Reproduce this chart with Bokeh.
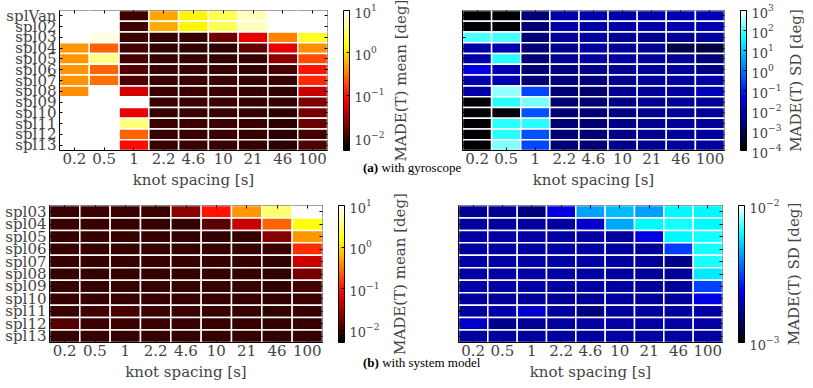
import numpy as np
from bokeh.plotting import figure
from bokeh.models import (ColumnDataSource, FactorRange, LogColorMapper, ColorBar,
                          FixedTicker, LogTickFormatter, Label, Div, CategoricalAxis)
from bokeh.layouts import column, row
from bokeh.embed import file_html
from bokeh.resources import INLINE

nan = float("nan")

# ---------------- data ----------------
spacing = ["0.2", "0.5", "1", "2.2", "4.6", "10", "21", "46", "100"]
rows_gyro = ["splVan", "spl02", "spl03", "spl04", "spl05", "spl06", "spl07",
             "spl08", "spl09", "spl10", "spl11", "spl12", "spl13"]
rows_sys = ["spl03", "spl04", "spl05", "spl06", "spl07", "spl08", "spl09",
            "spl10", "spl11", "spl12", "spl13"]

mean_gyro = [
    [nan, nan, 0.0100, 0.52, 1.30, 2.60, 6.00, nan, nan],
    [nan, nan, 0.0100, 0.55, 1.30, 2.70, 6.00, nan, nan],
    [nan, 8.00, 0.0096, 0.0086, 0.0091, 0.0165, 0.062, 0.35, 1.90],
    [0.44, 0.24, 0.0107, 0.0086, 0.0086, 0.0082, 0.015, 0.062, 0.40],
    [0.44, 3.90, 0.0107, 0.0091, 0.0091, 0.0086, 0.0091, 0.023, 0.19],
    [0.44, 0.25, 0.0126, 0.0096, 0.0096, 0.0091, 0.0086, 0.011, 0.10],
    [0.42, 0.28, 0.0120, 0.0096, 0.0096, 0.0096, 0.0091, 0.0091, 0.126],
    [0.40, nan, 0.052, 0.0096, 0.0096, 0.0096, 0.0091, 0.0086, 0.044],
    [nan, nan, nan, 0.0096, 0.0096, 0.0096, 0.0091, 0.0091, 0.020],
    [nan, nan, 0.065, 0.0096, 0.0096, 0.0096, 0.0091, 0.0082, 0.018],
    [nan, nan, 3.60, 0.0096, 0.0096, 0.0096, 0.0091, 0.0082, 0.016],
    [nan, nan, 0.25, 0.0096, 0.0096, 0.0096, 0.0091, 0.0082, 0.011],
    [nan, nan, 0.087, 0.0096, 0.0096, 0.0096, 0.0091, 0.0082, 0.012],
]

sd_gyro = [
    [1.2e-4, 1.2e-4, 0.0016, 0.0067, 0.0067, 0.0063, 0.0067, 0.0075, 0.0085],
    [1.2e-4, 1.2e-4, 0.0016, 0.0063, 0.0059, 0.0059, 0.0063, 0.0067, 0.0075],
    [110.0, 100.0, 0.0018, 0.0037, 0.0047, 0.0033, 0.0029, 0.0033, 0.0042],
    [0.0059, 0.0067, 0.0018, 0.0029, 0.0047, 0.0042, 0.0033, 6.0e-4, 5.0e-4],
    [0.0059, 66.0, 0.0016, 0.0033, 0.0047, 0.0047, 0.0042, 0.0037, 0.0016],
    [0.025, 0.0075, 0.0016, 0.0023, 0.0026, 0.0033, 0.0042, 0.0042, 0.0026],
    [0.0067, 0.0075, 0.0016, 0.0020, 0.0020, 0.0033, 0.0042, 0.0047, 0.0059],
    [0.0059, 265.0, 0.29, 0.0016, 0.0014, 0.0033, 0.0042, 0.0047, 0.0085],
    [1.2e-4, 66.0, 180.0, 0.0016, 0.0018, 0.0026, 0.0033, 0.0042, 0.0037],
    [1.2e-4, 1.4e-4, 0.40, 0.0016, 0.0018, 0.0026, 0.0033, 0.0042, 0.0042],
    [1.2e-4, 66.0, 66.0, 0.0018, 0.0016, 0.0026, 0.0033, 0.0042, 0.0042],
    [1.2e-4, 66.0, 0.40, 0.0018, 0.0018, 0.0029, 0.0033, 0.0042, 0.0047],
    [1.2e-4, 205.0, 0.29, 0.0018, 0.0018, 0.0029, 0.0033, 0.0042, 0.0047],
]

mean_sys = [
    [0.0096, 0.0096, 0.0096, 0.0096, 0.023, 0.10, 0.45, 3.30, 9.50],
    [0.0096, 0.0091, 0.0091, 0.0091, 0.0086, 0.0135, 0.045, 0.25, 1.50],
    [0.0091, 0.0091, 0.0091, 0.0091, 0.0091, 0.0086, 0.0091, 0.022, 0.45],
    [0.0091, 0.0091, 0.0091, 0.0091, 0.0091, 0.0091, 0.0091, 0.0096, 0.134],
    [0.0091, 0.0091, 0.0091, 0.0091, 0.0091, 0.0091, 0.0091, 0.0086, 0.045],
    [0.0091, 0.0091, 0.0091, 0.0091, 0.0091, 0.0091, 0.0091, 0.0086, 0.018],
    [0.0091, 0.0091, 0.0091, 0.0091, 0.0091, 0.0091, 0.0091, 0.0086, 0.0102],
    [0.0091, 0.0091, 0.0091, 0.0091, 0.0091, 0.0091, 0.0091, 0.0086, 0.0096],
    [0.0096, 0.0102, 0.0110, 0.0096, 0.0096, 0.0091, 0.0091, 0.0086, 0.0091],
    [0.0125, 0.0096, 0.0096, 0.0096, 0.0091, 0.0091, 0.0091, 0.0086, 0.0091],
    [0.0091, 0.0091, 0.0091, 0.0091, 0.0091, 0.0091, 0.0091, 0.0086, 0.0091],
]

sd_sys = [
    [0.00167, 0.00167, 0.00155, 0.0022, 0.0044, 0.0049, 0.0044, 0.0061, 0.0061],
    [0.00173, 0.00173, 0.00173, 0.00173, 0.0020, 0.0045, 0.0062, 0.0065, 0.0062],
    [0.00176, 0.00176, 0.00176, 0.00176, 0.00176, 0.00173, 0.0022, 0.0061, 0.0065],
    [0.00176, 0.00176, 0.00176, 0.00176, 0.00176, 0.00173, 0.00170, 0.0030, 0.0065],
    [0.00176, 0.00176, 0.00176, 0.00176, 0.00176, 0.00173, 0.00170, 0.0016, 0.0066],
    [0.00176, 0.00176, 0.00176, 0.00176, 0.00176, 0.00173, 0.00170, 0.00170, 0.0058],
    [0.00176, 0.00176, 0.00176, 0.00176, 0.00176, 0.00173, 0.00170, 0.00170, 0.0031],
    [0.00173, 0.00170, 0.00167, 0.00170, 0.00167, 0.00173, 0.00170, 0.00170, 0.0022],
    [0.00173, 0.00180, 0.0020, 0.00173, 0.00155, 0.00173, 0.00173, 0.00173, 0.00176],
    [0.0020, 0.00162, 0.00167, 0.00173, 0.00176, 0.00176, 0.00176, 0.00176, 0.00176],
    [0.00173, 0.00173, 0.00173, 0.00173, 0.00173, 0.00176, 0.00176, 0.00176, 0.00176],
]

mean_ticks = [1e-2, 1e-1, 1e0, 1e1]
sd_gyro_ticks = [1e-4, 1e-3, 1e-2, 1e-1, 1e0, 1e1, 1e2, 1e3]
sd_sys_ticks = [1e-3, 1e-2]

SERIF = "DejaVu Serif"
CAPFONT = "Liberation Serif"


# ---------------- colormaps ----------------
def to_hex(r, g, b):
    return "#%02x%02x%02x" % (int(round(r * 255)), int(round(g * 255)), int(round(b * 255)))


def hot_palette(n=256):
    t = np.linspace(0, 1, n)
    r = np.clip(t / 0.365079, 0, 1)
    g = np.clip((t - 0.365079) / (0.746032 - 0.365079), 0, 1)
    b = np.clip((t - 0.746032) / (1 - 0.746032), 0, 1)
    return [to_hex(*c) for c in zip(r, g, b)]


def ice_palette(n=256):
    pos = [0.0, 0.38, 0.80, 1.0]
    cols = np.array([[0, 0, 0], [0, 0, 1], [0, 1, 1], [1, 1, 1]], dtype=float)
    t = np.linspace(0, 1, n)
    r = np.interp(t, pos, cols[:, 0])
    g = np.interp(t, pos, cols[:, 1])
    b = np.interp(t, pos, cols[:, 2])
    return [to_hex(*c) for c in zip(r, g, b)]


HOT = hot_palette()
ICE = ice_palette()


def tick_only_axis():
    # mirrored inward ticks on the top / right frame edges (no labels drawn)
    return CategoricalAxis(major_label_text_font_size="1px", major_label_text_color=None,
                           major_label_standoff=0, major_tick_in=3, major_tick_out=0,
                           major_tick_line_color="black", axis_line_color=None)


def heatmap(rows, values, palette, low, high, ticks, width, height,
            bl, br, bt, bb, show_y, cbar_title, title_x, fh):
    p = figure(width=width, height=height,
               x_range=FactorRange(factors=spacing),
               y_range=FactorRange(factors=rows[::-1]),
               output_backend="svg", toolbar_location=None,
               min_border_left=bl, min_border_right=br,
               min_border_top=bt, min_border_bottom=bb)
    xs, ys, vs = [], [], []
    for i, r in enumerate(rows):
        for j, c in enumerate(spacing):
            xs.append(c)
            ys.append(r)
            vs.append(values[i][j])
    src = ColumnDataSource(dict(x=xs, y=ys, v=np.array(vs, dtype=float)))
    mapper = LogColorMapper(palette=palette, low=low, high=high, nan_color="white")
    p.rect(x="x", y="y", width=1, height=1, source=src,
           fill_color={"field": "v", "transform": mapper},
           line_color="white", line_width=1.5)
    p.grid.visible = False
    p.outline_line_color = "black"
    p.outline_line_width = 1
    p.background_fill_color = "white"

    p.xaxis.axis_label = "knot spacing [s]"
    p.xaxis.axis_label_text_font = SERIF
    p.xaxis.axis_label_text_font_size = "15px"
    p.xaxis.axis_label_text_font_style = "normal"
    p.xaxis.axis_label_standoff = 4
    p.xaxis.major_label_text_font = SERIF
    p.xaxis.major_label_text_font_size = "15px"
    p.xaxis.major_label_standoff = 2
    p.xaxis.major_tick_in = 3
    p.xaxis.major_tick_out = 0
    p.xaxis.axis_line_color = "black"

    p.yaxis.major_tick_in = 3
    p.yaxis.major_tick_out = 0
    if show_y:
        p.yaxis.major_label_text_font = SERIF
        p.yaxis.major_label_text_font_size = "15px"
        p.yaxis.major_label_standoff = 3
    else:
        p.yaxis.major_label_text_font_size = "1px"
        p.yaxis.major_label_text_color = None
        p.yaxis.major_label_standoff = 0

    p.add_layout(tick_only_axis(), "above")
    p.add_layout(tick_only_axis(), "right")

    # rotated colour-bar label
    p.add_layout(Label(x=title_x, y=fh / 2, x_units="screen", y_units="screen",
                       text=cbar_title, angle=90, angle_units="deg",
                       text_align="center", text_baseline="middle",
                       text_font=SERIF, text_font_size="15px"), "right")

    cb = ColorBar(color_mapper=mapper, ticker=FixedTicker(ticks=ticks),
                  formatter=LogTickFormatter(), width=6, height=fh,
                  padding=0, location=(-2, 0), label_standoff=5,
                  major_label_text_font=SERIF, major_label_text_font_size="13px",
                  major_tick_line_color="black", major_tick_in=3, major_tick_out=0,
                  minor_tick_line_color=None, bar_line_color="black",
                  border_line_color=None, background_fill_alpha=0)
    p.add_layout(cb, "right")
    return p


p1 = heatmap(rows_gyro, mean_gyro, HOT, 0.005, 10.0, mean_ticks,
             448, 192, 59, 121, 10, 42, True, "MADE(T) mean [deg]", 73, 140)
p2 = heatmap(rows_gyro, sd_gyro, ICE, 1e-4, 1e3, sd_gyro_ticks,
             357, 192, 14, 81, 10, 42, False, "MADE(T) SD [deg]", 71, 140)
p3 = heatmap(rows_sys, mean_sys, HOT, 0.005, 10.0, mean_ticks,
             448, 192, 49, 126, 13, 42, True, "MADE(T) mean [deg]", 77, 137)
p4 = heatmap(rows_sys, sd_sys, ICE, 1e-3, 1e-2, sd_sys_ticks,
             357, 192, 10, 83, 13, 42, False, "MADE(T) SD [deg]", 71, 137)

CAP_STYLE = {"font-family": CAPFONT, "font-size": "13px", "line-height": "14px",
             "white-space": "nowrap", "color": "black",
             "position": "relative", "z-index": "10"}
cap_a = Div(text="<b>(a)</b> with gyroscope", width=130, height=14,
            margin=(-31, 0, 17, 363), styles=CAP_STYLE)
cap_b = Div(text="<b>(b)</b> with system model", width=140, height=14,
            margin=(-28, 0, 14, 363), styles=CAP_STYLE)

layout = column(row(p1, p2), cap_a, row(p3, p4), cap_b)
open("out.html", "w").write(file_html(layout, INLINE))
